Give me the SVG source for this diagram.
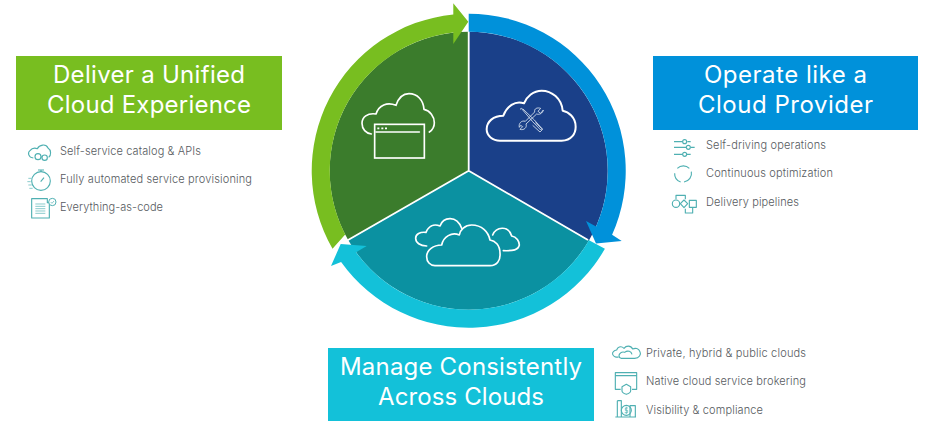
<svg xmlns="http://www.w3.org/2000/svg" width="941" height="429" viewBox="0 0 941 429">
<style>
.h{font-family:"Inter","Open Sans","Liberation Sans",sans-serif;font-weight:400;font-size:24px;fill:#fff}
.t{font-family:"Inter","Open Sans","Liberation Sans",sans-serif;font-weight:300;font-size:11px;fill:#565a5e}
.w{fill:none;stroke:#fff;stroke-width:5;stroke-linejoin:round;stroke-linecap:round}
.w2{fill:none;stroke:#dfe8f2;stroke-width:2.5;stroke-linejoin:round}
.i{fill:none;stroke:#4fb0b2;stroke-width:3.4;stroke-linejoin:round}
.i2{fill:none;stroke:#4fb0b2;stroke-width:2}
</style>
<rect width="941" height="429" fill="#fff"/>
<g id="wheel-segments">
<path id="seg-green" d="M468.7,170.7V31.7A139,139 0 0 0 348.3,240.2Z" fill="#3b7c2c"/>
<path id="seg-blue" d="M468.7,170.7V31.7A139,139 0 0 1 589.1,240.2Z" fill="#1a4089"/>
<path id="seg-teal" d="M468.7,170.7L589.1,240.2A139,139 0 0 1 348.3,240.2Z" fill="#0b91a1"/>
<path d="M468.7,31V170.7L588,240M468.7,170.7L345,241.7" fill="none" stroke="#fff" stroke-width="1.8"/>
</g>
<g id="connectors">
<path id="arrow-green" d="M332.5,248.8A157,157 0 0 1 453.3,14.5V3.3L468.3,21.7L453.3,44V32.6A139,139 0 0 0 345.2,234.4Z" fill="#78be20"/>
<path id="arrow-cyan" d="M604.9,248.8A157,157 0 0 1 341.1,262.1L331,266L340.7,244L366.7,246L356.1,252.2A139,139 0 0 0 589,240.3Z" fill="#13c1d9"/>
<path id="arrow-blue" d="M468.7,13.7A157,157 0 0 1 612.1,234.7L621.7,241L596,243.5L586,221L596.1,226.4A139,139 0 0 0 468.7,31.7Z" fill="#0091da"/>
</g>
<g transform="translate(300,0) scale(.33333)">
<g id="icon-window-cloud">
<path class="w" d="M214,402C198,400 186,388 186,370C186,352 202,338 228,342C236,315 262,305 288,316C296,292 312,281 327,281C352,281 370,300 372,328C390,332 403,350 403,368C403,380 397,390 388,396"/>
<rect x="224" y="373" width="149" height="101" fill="#3b7c2c" stroke="#fff" stroke-width="5"/>
<path class="w" d="M228,396H358"/>
<path d="M232,385h6M244,385h6M255,385h6" stroke="#fff" stroke-width="5" fill="none"/>
</g>
<g id="icon-tools-cloud">
<path class="w" style="stroke-width:6" d="M600,422H785C815,422 827,400 827,380C827,352 805,335 788,332C785,295 755,272 725,272C700,272 680,290 672,310C645,300 620,320 610,347C580,347 560,365 560,388C560,408 578,422 600,422Z"/>
<path class="w2" d="M660,328L664,325L698,365L722,390L726,386L703,360L668,326M730,330C728,340 718,345 710,342L678,372C682,382 672,392 660,388L668,380L662,376L658,382C655,370 665,360 676,364L704,336C702,325 712,322 722,325L714,334L722,340Z"/>
<path class="w2" d="M706,368L728,388L720,396L698,376"/>
</g>
<g id="icon-multi-cloud">
<path class="w" d="M405,797H570C590,797 602,782 600,760C600,735 585,722 570,720C565,695 545,675 515,675C495,675 480,690 478,705C455,695 430,710 425,735C400,735 380,750 380,770C380,785 390,797 405,797Z"/>
<path class="w" d="M380,738C360,738 347,728 347,715C347,702 360,695 378,697C385,680 400,670 420,678C430,650 470,645 485,685"/>
<path class="w" d="M578,705C588,680 625,675 635,708C650,710 658,725 658,735C655,750 640,753 610,752"/>
</g>
</g>
<g id="card-deliver">
<rect x="16" y="56" width="266" height="74" fill="#78be20"/>
<text class="h" x="53" y="83" textLength="192">Deliver a Unified</text>
<text class="h" x="47" y="113" textLength="204">Cloud Experience</text>
</g>
<g id="card-operate">
<rect x="653" y="56" width="265" height="74" fill="#0091da"/>
<text class="h" x="704" y="83" textLength="163">Operate like a</text>
<text class="h" x="698" y="113" textLength="175">Cloud Provider</text>
</g>
<g id="card-manage">
<rect x="328" y="348" width="266" height="73" fill="#13c1d9"/>
<text class="h" x="340" y="375" textLength="242">Manage Consistently</text>
<text class="h" x="378" y="405" textLength="166">Across Clouds</text>
</g>
<g id="list-deliver">
<g transform="translate(10,130) scale(.33333)">
<path class="i" d="M70,84C55,82 52,68 60,62C66,54 76,54 82,56C88,44 108,40 114,54C124,60 124,76 116,82"/>
<circle class="i" cx="84" cy="80" r="9"/><circle class="i" cx="104" cy="83" r="8"/><path class="i" d="M93,81H96"/>
<circle class="i" cx="93" cy="153" r="28"/><path class="i" d="M84,120h18M93,120v6M92,155l10,-12"/>
<path class="i2" d="M55,145h10M52,155h10M55,165h10M58,175h10"/>
<path class="i" d="M65,206H112V218H118V264H65Z"/>
<path class="i2" d="M76,222h30M76,229h30M76,236h30M76,243h30M76,250h30"/>
<circle cx="127" cy="216" r="11" fill="#fff" stroke="#4fb0b2" stroke-width="3"/><path class="i2" d="M122,216l4,4l6,-7"/>
</g>
<text class="t" x="60" y="155" textLength="141">Self-service catalog &amp; APIs</text>
<text class="t" x="60" y="183" textLength="192">Fully automated service provisioning</text>
<text class="t" x="60" y="211" textLength="103">Everything-as-code</text>
</g>
<g id="list-operate">
<g transform="translate(660,130) scale(.33333)">
<path class="i" d="M42,35H68M82,35H92M42,52H78M92,52H104M42,73H68M80,73H92"/>
<circle class="i" cx="74" cy="35" r="6"/><circle class="i" cx="85" cy="52" r="6"/><circle class="i" cx="74" cy="73" r="6"/>
<path class="i" d="M52,115A26,26 0 0 1 88,115M94,125A26,26 0 0 1 72,156M62,156A26,26 0 0 1 44,130"/>
<circle class="i" cx="48" cy="221" r="11"/><path class="i" d="M72,210L83,221L72,233L61,221Z"/><rect class="i" x="88" y="211" width="21" height="21"/>
<path class="i" d="M48,208V196H76V208M76,236V249H98V234"/>
</g>
<text class="t" x="706" y="149" textLength="120">Self-driving operations</text>
<text class="t" x="706" y="177" textLength="127">Continuous optimization</text>
<text class="t" x="706" y="206" textLength="93">Delivery pipelines</text>
</g>
<g id="list-manage">
<g transform="translate(600,335) scale(.33333)">
<path class="i" d="M62,70H104C118,70 124,58 120,50C116,40 106,38 98,42C92,30 78,32 72,40C62,30 52,38 50,45C42,46 36,52 38,58C40,64 48,68 56,66"/>
<path class="i" d="M62,70C50,62 62,48 74,52C84,44 94,50 96,58"/>
<path class="i" d="M62,163H46V113H110V163H96M46,122H110"/>
<path class="i" d="M66,155L79,148L92,155V167C92,172 85,176 79,178C73,176 66,172 66,167Z"/>
<path class="i" d="M46,246H108M52,246V197M64,246V197H52M90,246V212H106V246"/>
<circle class="i" cx="79" cy="226" r="15"/><path class="i2" d="M84,219H76V226H83V233H74M79,215V237"/>
</g>
<text class="t" x="646" y="357" textLength="160">Private, hybrid &amp; public clouds</text>
<text class="t" x="646" y="385" textLength="160">Native cloud service brokering</text>
<text class="t" x="646" y="414" textLength="117">Visibility &amp; compliance</text>
</g>
</svg>
